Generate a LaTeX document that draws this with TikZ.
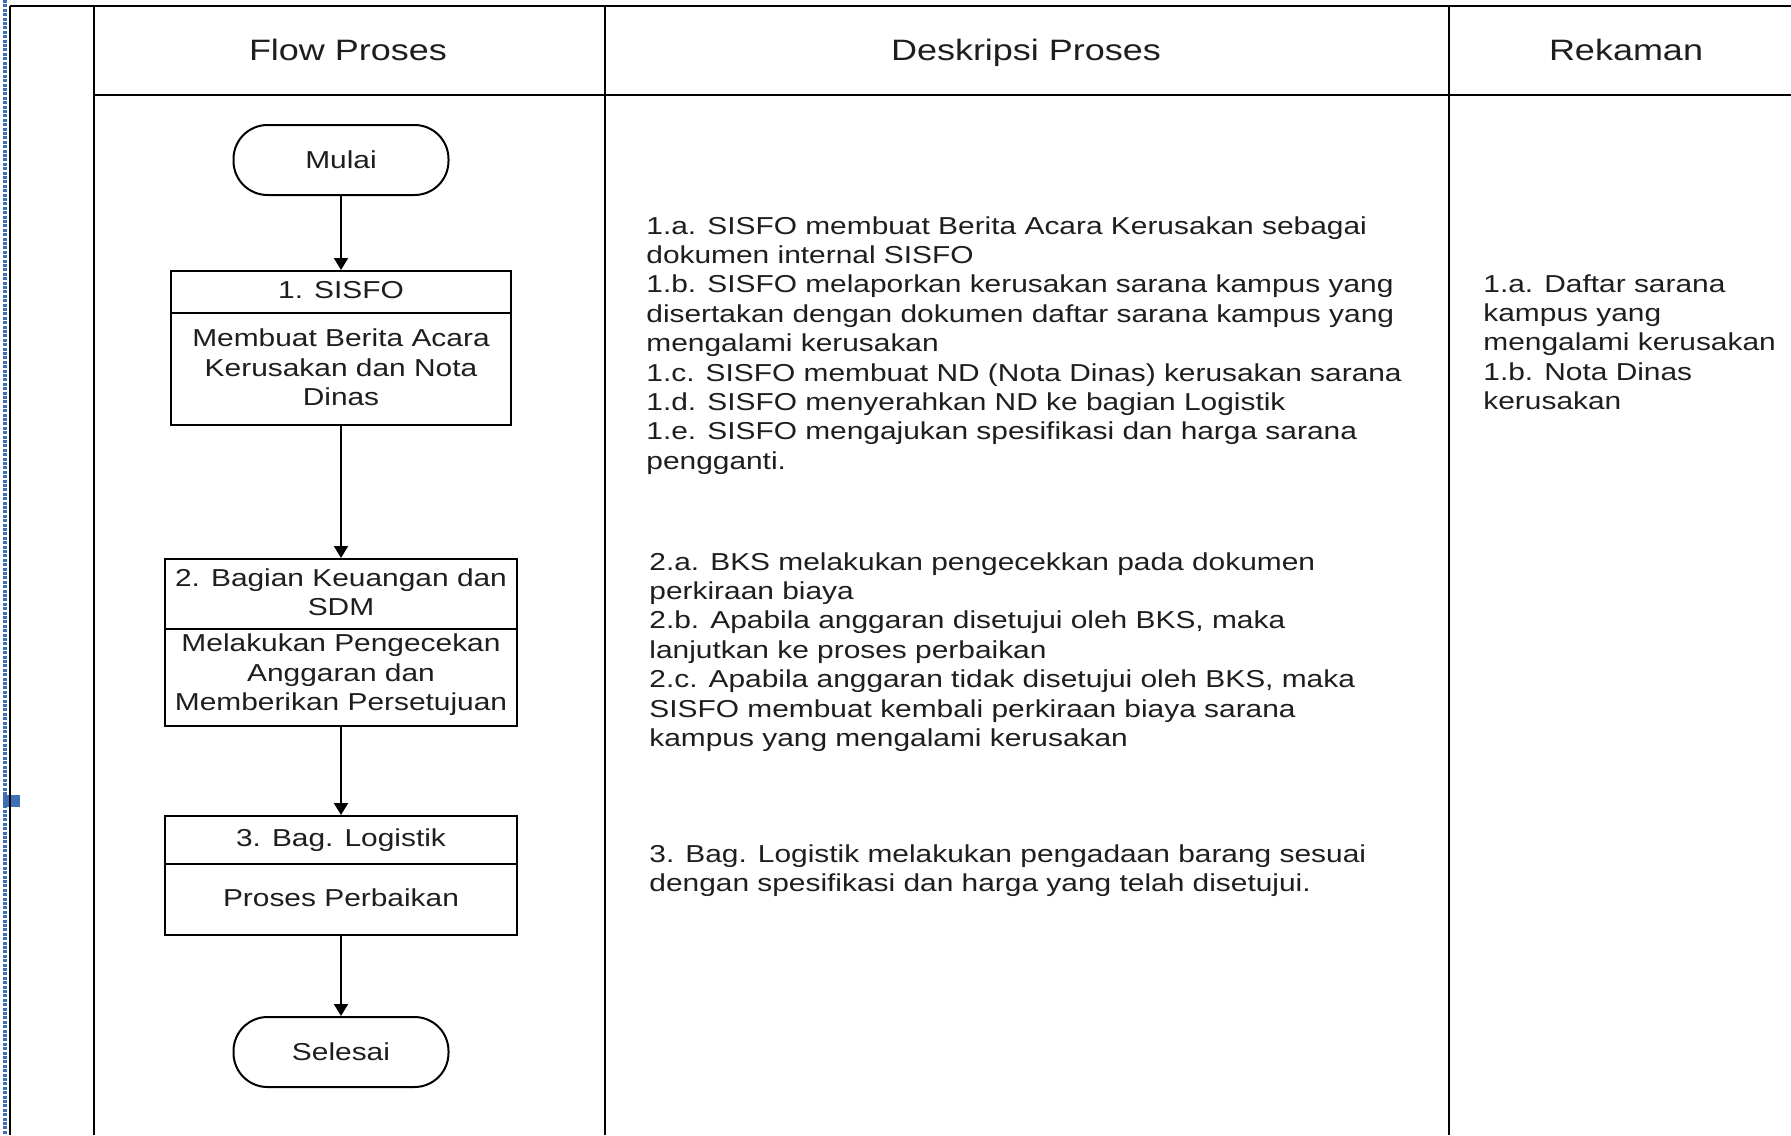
\documentclass[tikz,border=0pt]{standalone}
\usepackage{fontspec}
\setmainfont[FakeStretch=1.22]{Liberation Sans}
\usetikzlibrary{arrows.meta}
\definecolor{ink}{HTML}{1E1E1E}
\definecolor{markblue}{HTML}{3F6FB4}
\newcommand{\bodyfont}{\fontsize{12.25pt}{14.7pt}\selectfont}
\newcommand{\headfont}{\fontsize{14.75pt}{17pt}\selectfont}

\begin{document}
\begin{tikzpicture}[x=0.5pt,y=-0.5pt,
  rule/.style={line width=1.4pt, draw=black},
  terminal/.style={draw, line width=1pt, rounded corners=17pt,
    minimum width=107.5pt, minimum height=35pt, inner sep=0pt,
    font=\bodyfont, text=ink},
  procbox/.style={draw, line width=1pt, inner sep=0pt},
  boxtext/.style={align=center, font=\bodyfont, text=ink, inner sep=0pt},
  desc/.style={align=left, anchor=north west, font=\bodyfont, text=ink, inner sep=0pt},
  head/.style={font=\headfont, text=ink, inner sep=0pt, anchor=base},
  flow/.style={line width=1pt, -{Triangle[width=7pt,length=6pt]}}
]
\useasboundingbox (0,0) rectangle (1791,1135);

% page margin marker
\draw[markblue, line width=2pt, dash pattern=on 1.5pt off 0.7pt] (4.5,0) -- (4.5,1135);
\fill[markblue] (3,795) rectangle (20,807);

% table rules
\draw[rule] (10,6) -- (1791,6);
\draw[rule] (10,6) -- (10,1135);
\draw[rule] (94,6) -- (94,1135);
\draw[rule] (605,6) -- (605,1135);
\draw[rule] (1449,6) -- (1449,1135);
\draw[rule] (94,95) -- (1791,95);

% column headings
\node[head] (hflow) at (348,60.7) {Flow Proses};
\node[head] (hdesc) at (1026,60.7) {Deskripsi Proses};
\node[head] (hrec)  at (1626,60.7) {Rekaman};

% flowchart
\node[terminal] (mulai) at (341,160) {Mulai};

\node[procbox, minimum width=170pt, minimum height=77pt] (b1) at (341,348) {};
\draw[line width=1pt] (b1.west |- 0,313) -- (b1.east |- 0,313);
\node[boxtext] (t1) at (341,290) {1. SISFO};
\node[boxtext] (d1) at (341,367.5) {Membuat Berita Acara\\Kerusakan dan Nota\\Dinas};

\node[procbox, minimum width=176pt, minimum height=83.5pt] (b2) at (341,642.5) {};
\draw[line width=1pt] (b2.west |- 0,629) -- (b2.east |- 0,629);
\node[boxtext] (t2) at (341,592.5) {2. Bagian Keuangan dan\\SDM};
\node[boxtext] (d2) at (341,675) {Melakukan Pengecekan\\Anggaran dan\\Memberikan Persetujuan};

\node[procbox, minimum width=176pt, minimum height=59.5pt] (b3) at (341,875.5) {};
\draw[line width=1pt] (b3.west |- 0,864) -- (b3.east |- 0,864);
\node[boxtext] (t3) at (341,840) {3. Bag. Logistik};
\node[boxtext] (d3) at (341,898) {Proses Perbaikan};

\node[terminal] (selesai) at (341,1052) {Selesai};

\draw[flow] (mulai) -- (b1);
\draw[flow] (b1) -- (b2);
\draw[flow] (b2) -- (b3);
\draw[flow] (b3) -- (selesai);

% process descriptions
\node[desc] (desc1) at (646,216) {1.a. SISFO membuat Berita Acara Kerusakan sebagai\\
dokumen internal SISFO\\
1.b. SISFO melaporkan kerusakan sarana kampus yang\\
disertakan dengan dokumen daftar sarana kampus yang\\
mengalami kerusakan\\
1.c. SISFO membuat ND (Nota Dinas) kerusakan sarana\\
1.d. SISFO menyerahkan ND ke bagian Logistik\\
1.e. SISFO mengajukan spesifikasi dan harga sarana\\
pengganti.};

\node[desc] (desc2) at (649,552) {2.a. BKS melakukan pengecekkan pada dokumen\\
perkiraan biaya\\
2.b. Apabila anggaran disetujui oleh BKS, maka\\
lanjutkan ke proses perbaikan\\
2.c. Apabila anggaran tidak disetujui oleh BKS, maka\\
SISFO membuat kembali perkiraan biaya sarana\\
kampus yang mengalami kerusakan};

\node[desc] (desc3) at (649,844) {3. Bag. Logistik melakukan pengadaan barang sesuai\\
dengan spesifikasi dan harga yang telah disetujui.};

% records
\node[desc] (rec1) at (1483,274) {1.a. Daftar sarana\\
kampus yang\\
mengalami kerusakan\\
1.b. Nota Dinas\\
kerusakan};

\end{tikzpicture}
\end{document}
